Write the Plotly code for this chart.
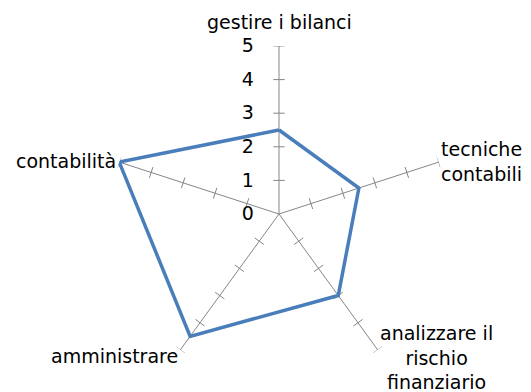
import numpy as np
import plotly.graph_objects as go

# dati del grafico radar
categorie = ["gestire i bilanci", "tecniche<br>contabili", "analizzare il<br>rischio<br>finanziario",
             "amministrare", "contabilità"]
valori = [2.5, 2.5, 3, 4.5, 5]
tick_valori = [0, 1, 2, 3, 4, 5]

n = len(categorie)
angoli = [i * 360 / n for i in range(n)]

# la pagina html ha un margine di 8px: la figura parte da (8, 8)
OFF = 8
W, H = 531 - OFF, 392 - OFF
CX, CY, R = 279 - OFF, 214 - OFF, 168   # centro e raggio del radar in pixel della figura

fig = go.Figure()

# tacche sugli assi (piccoli segmenti perpendicolari a ogni raggio)
mezza = 0.17
tr, tt = [], []
for ang in angoli:
    for k in tick_valori[1:]:
        r = np.hypot(k, mezza)
        d = np.degrees(np.arctan2(mezza, k))
        tr += [r, r, None]
        tt += [ang - d, ang + d, None]

fig.add_trace(go.Scatterpolar(
    r=tr, theta=tt,
    mode='lines', line=dict(color='#868686', width=1),
    hoverinfo='skip', showlegend=False
))

# serie
fig.add_trace(go.Scatterpolar(
    r=valori + valori[:1], theta=angoli + angoli[:1],
    mode='lines', line=dict(color='#4A7EBB', width=3.5),
    showlegend=False
))

# etichette delle categorie, ancorate alla fine di ogni raggio
ancore = [('center', 'middle', 0, -24), ('left', 'middle', 0, -1), ('left', 'middle', 0, 8),
          ('right', 'middle', 0, 6), ('right', 'middle', -1, -1)]
for testo, ang, (xa, ya, dx, dy) in zip(categorie, angoli, ancore):
    a = np.radians(90 - ang)
    px = CX + R * np.cos(a) + dx
    py = CY - R * np.sin(a) + dy
    fig.add_annotation(
        x=px / W, y=1 - py / H, xref='paper', yref='paper',
        text=testo, showarrow=False, xanchor=xa, yanchor=ya, align='center',
        font=dict(size=19)
    )

fig.update_layout(
    width=W, height=H,
    margin=dict(l=0, r=0, t=0, b=0, autoexpand=False),
    paper_bgcolor='white',
    font=dict(family='DejaVu Sans', size=19, color='black'),
    polar=dict(
        domain=dict(x=[(CX - R) / W, (CX + R) / W], y=[1 - (CY + R) / H, 1 - (CY - R) / H]),
        bgcolor='white',
        gridshape='linear',
        radialaxis=dict(
            range=[0, 5], tickvals=tick_valori, angle=90, side='counterclockwise',
            tickangle=90, showline=False, showgrid=False,
            ticks='outside', ticklen=18, tickcolor='rgba(0,0,0,0)',
        ),
        angularaxis=dict(
            type='linear', tickvals=angoli, showticklabels=False,
            direction='clockwise', rotation=90,
            showline=False, showgrid=True, gridcolor='#868686', gridwidth=1, ticks='',
        ),
    ),
)

fig.write_html("out.html")
